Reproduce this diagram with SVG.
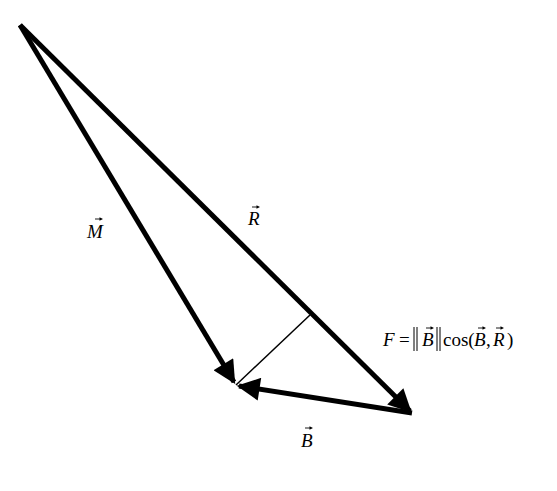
<svg xmlns="http://www.w3.org/2000/svg" width="557" height="491" viewBox="0 0 557 491">
<style>
.v{stroke:#000;stroke-width:5;fill:none}
.t{font-family:"Liberation Serif",serif;font-size:19px;fill:#000}
.i{font-style:italic}
</style>
<defs>
<marker id="ah" viewBox="0 0 10 10" refX="9" refY="5" markerWidth="5.2" markerHeight="4.6" orient="auto" markerUnits="strokeWidth">
<path d="M0,0 L10,5 L0,10 z" fill="#000"/>
</marker>
<g id="vec">
<path d="M0,0 H6" stroke="#000" stroke-width="0.9"/>
<path d="M4.5,-1.8 L8,0 L4.5,1.8 z" fill="#000"/>
</g>
</defs>
<rect width="557" height="491" fill="#fff"/>
<g id="connectors">
<line class="v" x1="20" y1="25" x2="234" y2="382" marker-end="url(#ah)"/>
<line class="v" x1="20" y1="25" x2="410" y2="411" marker-end="url(#ah)"/>
<line class="v" x1="412" y1="413" x2="239" y2="386" marker-end="url(#ah)"/>
<line x1="236" y1="385" x2="310" y2="315" stroke="#000" stroke-width="1.5"/>
</g>
<g id="label-M">
<text class="t i" x="87" y="238">M</text>
<use href="#vec" x="95" y="219"/>
</g>
<g id="label-R">
<text class="t i" x="248" y="225">R</text>
<use href="#vec" x="252" y="207"/>
</g>
<g id="label-B">
<text class="t i" x="301" y="447">B</text>
<use href="#vec" x="305" y="428"/>
</g>
<g id="formula">
<text class="t i" x="383" y="346">F</text>
<text class="t" x="399" y="346">=</text>
<line x1="414" y1="327" x2="414" y2="351" stroke="#000" stroke-width="1"/>
<line x1="417" y1="327" x2="417" y2="351" stroke="#000" stroke-width="1"/>
<text class="t i" x="422" y="346">B</text>
<use href="#vec" x="426" y="328"/>
<line x1="437" y1="327" x2="437" y2="351" stroke="#000" stroke-width="1"/>
<line x1="440" y1="327" x2="440" y2="351" stroke="#000" stroke-width="1"/>
<text class="t" x="443" y="346">cos(</text>
<text class="t i" x="474" y="346">B</text>
<use href="#vec" x="478" y="328"/>
<text class="t" x="486" y="346">,</text>
<text class="t i" x="493" y="346">R</text>
<use href="#vec" x="496" y="328"/>
<text class="t" x="507" y="346">)</text>
</g>
</svg>
